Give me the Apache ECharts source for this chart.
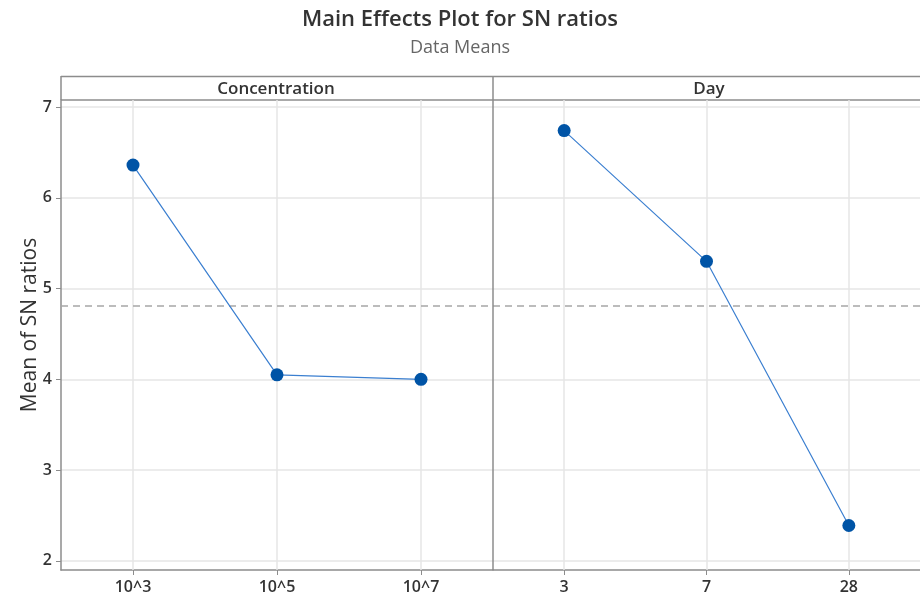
<!DOCTYPE html>
<html>
<head>
<meta charset="utf-8">
<script src="https://cdn.jsdelivr.net/npm/echarts@6/dist/echarts.min.js"></script>
<style>
  html, body { margin: 0; padding: 0; background: #fff; }
  #main { width: 920px; height: 599px; }
</style>
</head>
<body>
<div id="main"></div>
<script>
var concLevels = ['10^3', '10^5', '10^7'];
var concMeans = [6.36, 4.05, 4.00];
var dayLevels = ['3', '7', '28'];
var dayMeans = [6.74, 5.30, 2.39];
var yTicks = [2, 3, 4, 5, 6, 7];

var allVals = concMeans.concat(dayMeans);
var grandMean = allVals.reduce(function (a, b) { return a + b; }, 0) / allVals.length;

var font = '"Open Sans", "Noto Sans", sans-serif';
var gridColor = '#e6e6e6';
var axisColor = '#8c8c8c';

var myChart = echarts.init(document.getElementById('main'));

function xAx(idx, cats) {
    return {
        type: 'category', gridIndex: idx, data: cats, boundaryGap: true,
        axisLine: { show: true, lineStyle: { color: axisColor, width: 1.5 } },
        axisTick: { show: true, alignWithLabel: true, length: 5, lineStyle: { color: axisColor } },
        axisLabel: { color: '#333', fontSize: 16, fontWeight: 600, fontFamily: font, margin: 9 },
        splitLine: { show: false }
    };
}

function yAx(idx, showLabels) {
    return {
        type: 'value', gridIndex: idx, min: 1.9, max: 7.077,
        axisLine: { show: showLabels, lineStyle: { color: axisColor, width: 1.5 } },
        axisTick: { show: showLabels, length: 5, customValues: yTicks, lineStyle: { color: axisColor } },
        axisLabel: { show: showLabels, customValues: yTicks, color: '#333', fontSize: 16, fontWeight: 600, fontFamily: font, margin: 9 },
        splitLine: { show: true, lineStyle: { color: gridColor, width: 1.5 } }
    };
}

function vLines(n) {
    var d = [];
    for (var i = 0; i < n; i++) d.push({ xAxis: i });
    d.push({ yAxis: grandMean, lineStyle: { color: '#a6a6a6', type: [7, 5], width: 1.5 } });
    return d;
}

function mkSeries(idx, vals) {
    return {
        type: 'line', xAxisIndex: idx, yAxisIndex: idx, data: vals,
        symbol: 'circle', symbolSize: 13,
        itemStyle: { color: '#0054a6' },
        lineStyle: { color: '#3b7fd0', width: 1.2 },
        z: 5,
        markLine: {
            silent: true, symbol: 'none', label: { show: false },
            lineStyle: { color: gridColor, type: 'solid', width: 1.5 },
            data: vLines(vals.length), z: 1
        }
    };
}

option = {
    animation: false,
    backgroundColor: '#fff',
    title: [
        { text: 'Main Effects Plot for SN ratios', left: 'center', top: 4,
          textStyle: { fontFamily: font, fontSize: 22, fontWeight: 600, color: '#333' } },
        { text: 'Data Means', left: 'center', top: 34,
          textStyle: { fontFamily: font, fontSize: 18, fontWeight: 'normal', color: '#666' } }
    ],
    grid: [
        { left: 61, top: 100, width: 432, height: 470 },
        { left: 493, top: 100, width: 432, height: 470 }
    ],
    xAxis: [xAx(0, concLevels), xAx(1, dayLevels)],
    yAxis: [yAx(0, true), yAx(1, false)],
    series: [mkSeries(0, concMeans), mkSeries(1, dayMeans)],
    graphic: [
        { type: 'line', shape: { x1: 61, y1: 76.5, x2: 925, y2: 76.5 }, style: { stroke: axisColor, lineWidth: 1.5 } },
        { type: 'line', shape: { x1: 61, y1: 100, x2: 925, y2: 100 }, style: { stroke: axisColor, lineWidth: 1.5 } },
        { type: 'line', shape: { x1: 61, y1: 76, x2: 61, y2: 100 }, style: { stroke: axisColor, lineWidth: 1.5 } },
        { type: 'line', shape: { x1: 493, y1: 76, x2: 493, y2: 570 }, style: { stroke: axisColor, lineWidth: 1.5 }, z: 10 },
        { type: 'text', x: 276, y: 89, style: { text: 'Concentration', align: 'center', verticalAlign: 'middle',
          font: '600 17px ' + font, fill: '#333' } },
        { type: 'text', x: 709, y: 89, style: { text: 'Day', align: 'center', verticalAlign: 'middle',
          font: '600 17px ' + font, fill: '#333' } },
        { type: 'text', x: 30, y: 325, rotation: Math.PI / 2, style: { text: 'Mean of SN ratios', align: 'center',
          verticalAlign: 'middle', font: '21px ' + font, fill: '#333' } }
    ]
};

myChart.setOption(option, true);
</script>
</body>
</html>
